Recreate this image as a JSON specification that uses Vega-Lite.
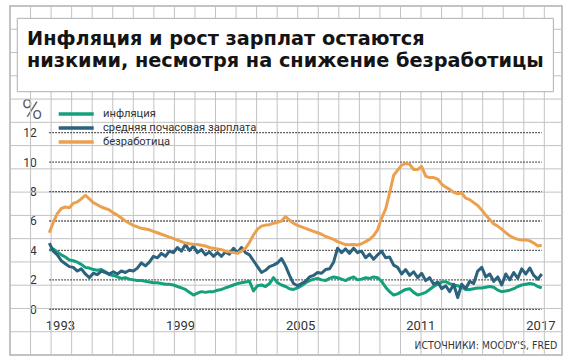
{
"$schema":"https://vega.github.io/schema/vega-lite/v6.json",
"width":552,"height":349,
"padding":{"left":10,"top":6,"right":8,"bottom":9},
"autosize":{"type":"none"},
"background":"white",
"config":{"view":{"stroke":"#b0b0b0","strokeWidth":1.5},"font":"Roboto"},
"title":{"text":["Инфляция и рост зарплат остаются","низкими, несмотря на снижение безработицы"],"anchor":"start","frame":"group","orient":"top","offset":-66,"dx":17,"fontSize":19.3,"fontWeight":"bold","font":"DejaVu Sans","color":"#141414","lineHeight":22},
"layer":[
{"layer":[
  {"data":{"values":[{"g":1},{"g":2},{"g":3},{"g":4},{"g":5},{"g":6},{"g":7},{"g":8},{"g":9},{"g":10},{"g":11},{"g":12},{"g":13},{"g":14},{"g":15},{"g":16},{"g":17},{"g":18},{"g":19},{"g":20},{"g":21},{"g":22},{"g":23},{"g":24},{"g":25},{"g":26}]},
   "mark":{"type":"rule","color":"#c2c2c2","strokeWidth":1},
   "encoding":{"x":{"field":"g","type":"quantitative","scale":{"domain":[0,26.86],"nice":false,"zero":false},"axis":null}}},
  {"data":{"values":[{"g":1},{"g":2},{"g":3},{"g":4},{"g":5},{"g":6},{"g":7},{"g":8},{"g":9},{"g":10},{"g":11},{"g":12},{"g":13},{"g":14}]},
   "mark":{"type":"rule","color":"#c2c2c2","strokeWidth":1},
   "encoding":{"y":{"field":"g","type":"quantitative","scale":{"domain":[0,15],"nice":false,"zero":false},"axis":null}}},
  {"data":{"values":[{}]},
   "mark":{"type":"rect","fill":"white","stroke":"#b0b0b0","strokeWidth":1},
   "encoding":{"x":{"datum":0.355,"type":"quantitative"},"x2":{"datum":26.44},"y":{"datum":14.47,"type":"quantitative"},"y2":{"datum":11.317}}}
 ]},
{"layer":[
  {"data":{"values":[{"v":0},{"v":2},{"v":4},{"v":6},{"v":8},{"v":10},{"v":12}]},
   "mark":{"type":"rule","strokeDash":[1.5,1.5],"color":"#333","strokeWidth":1.3},
   "encoding":{
    "y":{"field":"v","type":"quantitative","scale":{"domain":[-3.105,20.607],"nice":false,"zero":false},
      "axis":{"orient":"left","offset":-39.3,"values":[0,2,4,6,8,10,12],"grid":false,"ticks":false,"domain":false,"labelPadding":13,"labelFontSize":12,"labelColor":"#333","title":"%","titleAngle":0,"titleFontSize":28,"titleFontWeight":300,"titleColor":"#555","titleX":-17.8,"titleY":112,"titleAlign":"center","titleBaseline":"alphabetic"}},
    "x":{"datum":1993,"type":"quantitative","scale":{"domain":[1991.037,2018.61],"nice":false,"zero":false},
      "axis":{"orient":"bottom","offset":-45.7,"values":[1993,1999,2005,2011,2017],"format":"d","grid":false,"ticks":false,"domain":false,"labelPadding":10,"labelFontSize":13,"labelColor":"#333","labelAlign":"left","labelOffset":-4,"title":"ИСТОЧНИКИ: MOODY'S, FRED","titleFont":"Liberation Sans Narrow, DejaVu Sans Condensed, sans-serif","titleFontSize":10.5,"titleFontWeight":"normal","titleColor":"#333","titleX":546.7,"titleY":38.7,"titleAlign":"right","titleBaseline":"alphabetic"}},
    "x2":{"datum":2017.6}}},
  {"data":{"values":[
{"t":1993.0,"u":5.2,"w":4.5,"i":4.0},
{"t":1993.2,"u":5.9,"w":3.95,"i":4.1},
{"t":1993.4,"u":6.5,"w":3.7,"i":3.9},
{"t":1993.6,"u":6.85,"w":3.3,"i":3.7},
{"t":1993.8,"u":6.95,"w":3.1,"i":3.55},
{"t":1994.0,"u":6.9,"w":2.9,"i":3.35},
{"t":1994.2,"u":7.2,"w":2.85,"i":3.3},
{"t":1994.4,"u":7.3,"w":2.6,"i":3.2},
{"t":1994.6,"u":7.5,"w":2.75,"i":3.05},
{"t":1994.8,"u":7.75,"w":2.4,"i":2.85},
{"t":1995.0,"u":7.5,"w":2.15,"i":2.8},
{"t":1995.2,"u":7.25,"w":2.45,"i":2.7},
{"t":1995.4,"u":7.1,"w":2.35,"i":2.65},
{"t":1995.6,"u":6.95,"w":2.6,"i":2.7},
{"t":1995.8,"u":6.85,"w":2.5,"i":2.55},
{"t":1996.0,"u":6.75,"w":2.4,"i":2.35},
{"t":1996.2,"u":6.55,"w":2.55,"i":2.3},
{"t":1996.4,"u":6.4,"w":2.4,"i":2.2},
{"t":1996.6,"u":6.2,"w":2.6,"i":2.1},
{"t":1996.8,"u":6.0,"w":2.5,"i":2.15},
{"t":1997.0,"u":5.85,"w":2.65,"i":2.05},
{"t":1997.2,"u":5.7,"w":2.6,"i":2.0},
{"t":1997.4,"u":5.6,"w":2.8,"i":1.95},
{"t":1997.6,"u":5.5,"w":3.15,"i":1.95},
{"t":1997.8,"u":5.45,"w":2.95,"i":1.9},
{"t":1998.0,"u":5.4,"w":3.2,"i":1.85},
{"t":1998.2,"u":5.3,"w":3.6,"i":1.8},
{"t":1998.4,"u":5.2,"w":3.5,"i":1.8},
{"t":1998.6,"u":5.1,"w":3.8,"i":1.75},
{"t":1998.8,"u":5.0,"w":3.6,"i":1.7},
{"t":1999.0,"u":4.9,"w":3.95,"i":1.7},
{"t":1999.2,"u":4.82,"w":3.85,"i":1.65},
{"t":1999.4,"u":4.7,"w":4.2,"i":1.55},
{"t":1999.6,"u":4.6,"w":3.95,"i":1.45},
{"t":1999.8,"u":4.5,"w":4.4,"i":1.35},
{"t":2000.0,"u":4.45,"w":4.0,"i":1.15},
{"t":2000.2,"u":4.42,"w":4.3,"i":0.97},
{"t":2000.4,"u":4.4,"w":3.85,"i":1.1},
{"t":2000.6,"u":4.35,"w":4.05,"i":1.2},
{"t":2000.8,"u":4.3,"w":3.7,"i":1.15},
{"t":2001.0,"u":4.2,"w":3.9,"i":1.2},
{"t":2001.2,"u":4.15,"w":3.6,"i":1.2},
{"t":2001.4,"u":4.1,"w":3.85,"i":1.3},
{"t":2001.6,"u":4.05,"w":3.6,"i":1.35},
{"t":2001.8,"u":3.95,"w":3.9,"i":1.45},
{"t":2002.0,"u":3.9,"w":3.75,"i":1.55},
{"t":2002.2,"u":3.85,"w":4.15,"i":1.65},
{"t":2002.4,"u":3.8,"w":3.85,"i":1.75},
{"t":2002.6,"u":3.95,"w":4.2,"i":1.8},
{"t":2002.8,"u":4.15,"w":3.85,"i":1.85},
{"t":2003.0,"u":4.55,"w":3.7,"i":1.9},
{"t":2003.2,"u":5.05,"w":3.3,"i":1.25},
{"t":2003.4,"u":5.45,"w":2.9,"i":1.6},
{"t":2003.6,"u":5.65,"w":2.5,"i":1.65},
{"t":2003.8,"u":5.72,"w":2.65,"i":1.55},
{"t":2004.0,"u":5.75,"w":2.9,"i":1.75},
{"t":2004.2,"u":5.85,"w":3.0,"i":2.15},
{"t":2004.4,"u":5.9,"w":3.15,"i":1.8},
{"t":2004.6,"u":6.0,"w":3.45,"i":1.65},
{"t":2004.8,"u":6.3,"w":2.95,"i":1.55},
{"t":2005.0,"u":6.05,"w":2.3,"i":1.4},
{"t":2005.2,"u":5.85,"w":1.75,"i":1.35},
{"t":2005.4,"u":5.7,"w":1.6,"i":1.45},
{"t":2005.6,"u":5.6,"w":1.75,"i":1.6},
{"t":2005.8,"u":5.5,"w":1.9,"i":1.8},
{"t":2006.0,"u":5.4,"w":2.2,"i":1.95},
{"t":2006.2,"u":5.3,"w":2.3,"i":2.05},
{"t":2006.4,"u":5.2,"w":2.5,"i":2.1},
{"t":2006.6,"u":5.1,"w":2.45,"i":2.0},
{"t":2006.8,"u":4.95,"w":2.7,"i":1.95},
{"t":2007.0,"u":4.85,"w":2.75,"i":2.1},
{"t":2007.2,"u":4.75,"w":3.2,"i":2.2},
{"t":2007.4,"u":4.6,"w":4.15,"i":2.15},
{"t":2007.6,"u":4.5,"w":3.85,"i":2.05},
{"t":2007.8,"u":4.4,"w":4.1,"i":1.95},
{"t":2008.0,"u":4.38,"w":3.8,"i":2.1},
{"t":2008.2,"u":4.4,"w":4.15,"i":2.2},
{"t":2008.4,"u":4.37,"w":3.85,"i":2.0},
{"t":2008.6,"u":4.45,"w":3.95,"i":2.05},
{"t":2008.8,"u":4.6,"w":3.5,"i":2.15},
{"t":2009.0,"u":4.75,"w":3.75,"i":2.1},
{"t":2009.2,"u":5.0,"w":3.4,"i":2.2},
{"t":2009.4,"u":5.4,"w":3.7,"i":2.15},
{"t":2009.6,"u":6.2,"w":3.95,"i":1.9},
{"t":2009.8,"u":6.8,"w":3.5,"i":1.5},
{"t":2010.0,"u":7.9,"w":3.55,"i":1.2},
{"t":2010.2,"u":9.1,"w":3.0,"i":0.97},
{"t":2010.4,"u":9.45,"w":2.85,"i":1.05},
{"t":2010.6,"u":9.8,"w":2.4,"i":1.2},
{"t":2010.8,"u":9.9,"w":2.7,"i":1.35},
{"t":2011.0,"u":9.85,"w":2.3,"i":1.4},
{"t":2011.2,"u":9.5,"w":2.55,"i":1.15},
{"t":2011.4,"u":9.5,"w":2.15,"i":0.97},
{"t":2011.6,"u":9.7,"w":2.45,"i":1.05},
{"t":2011.8,"u":9.05,"w":1.95,"i":1.15},
{"t":2012.0,"u":8.95,"w":2.15,"i":1.35},
{"t":2012.2,"u":8.95,"w":1.7,"i":1.55},
{"t":2012.4,"u":8.85,"w":1.85,"i":1.7},
{"t":2012.6,"u":8.5,"w":1.4,"i":1.85},
{"t":2012.8,"u":8.3,"w":1.6,"i":1.88},
{"t":2013.0,"u":8.15,"w":1.2,"i":1.75},
{"t":2013.2,"u":7.95,"w":1.7,"i":1.65},
{"t":2013.4,"u":7.85,"w":0.8,"i":1.6},
{"t":2013.6,"u":7.9,"w":1.7,"i":1.5},
{"t":2013.8,"u":7.55,"w":1.4,"i":1.35},
{"t":2014.0,"u":7.45,"w":1.9,"i":1.35},
{"t":2014.2,"u":7.25,"w":1.75,"i":1.4},
{"t":2014.4,"u":7.05,"w":2.6,"i":1.45},
{"t":2014.6,"u":6.75,"w":2.85,"i":1.45},
{"t":2014.8,"u":6.4,"w":2.2,"i":1.5},
{"t":2015.0,"u":6.1,"w":2.4,"i":1.55},
{"t":2015.2,"u":5.8,"w":1.9,"i":1.5},
{"t":2015.4,"u":5.65,"w":2.2,"i":1.3},
{"t":2015.6,"u":5.45,"w":1.65,"i":1.2},
{"t":2015.8,"u":5.2,"w":2.4,"i":1.25},
{"t":2016.0,"u":5.0,"w":2.0,"i":1.3},
{"t":2016.2,"u":4.85,"w":2.5,"i":1.4},
{"t":2016.4,"u":4.75,"w":2.1,"i":1.55},
{"t":2016.6,"u":4.7,"w":2.75,"i":1.65},
{"t":2016.8,"u":4.72,"w":2.4,"i":1.7},
{"t":2017.0,"u":4.65,"w":2.8,"i":1.75},
{"t":2017.2,"u":4.5,"w":2.3,"i":1.7},
{"t":2017.4,"u":4.3,"w":2.05,"i":1.55},
{"t":2017.6,"u":4.35,"w":2.4,"i":1.45}
  ]},
   "transform":[{"fold":["i","w","u"],"as":["s","v"]}],
   "mark":{"type":"line","strokeWidth":3,"strokeJoin":"round"},
   "encoding":{
    "x":{"field":"t","type":"quantitative"},
    "y":{"field":"v","type":"quantitative"},
    "color":{"field":"s","type":"nominal","scale":{"domain":["i","w","u"],"range":["#14a07c","#2c627d","#eba050"]},
      "legend":{"orient":"none","legendX":59.2,"legendY":101,"title":null,"symbolType":"M-3.5,0H3.5","symbolSize":100,"symbolStrokeWidth":3.5,"labelFontSize":11.2,"labelColor":"#333","labelOffset":19.8,"labelLimit":400,"rowPadding":0,"padding":0,
        "labelExpr":"datum.label == 'i' ? 'инфляция' : datum.label == 'w' ? 'средняя почасовая зарплата' : 'безработица'"}}}}
 ]}
],
"resolve":{"scale":{"x":"independent","y":"independent"},"axis":{"x":"independent","y":"independent"}}
}
